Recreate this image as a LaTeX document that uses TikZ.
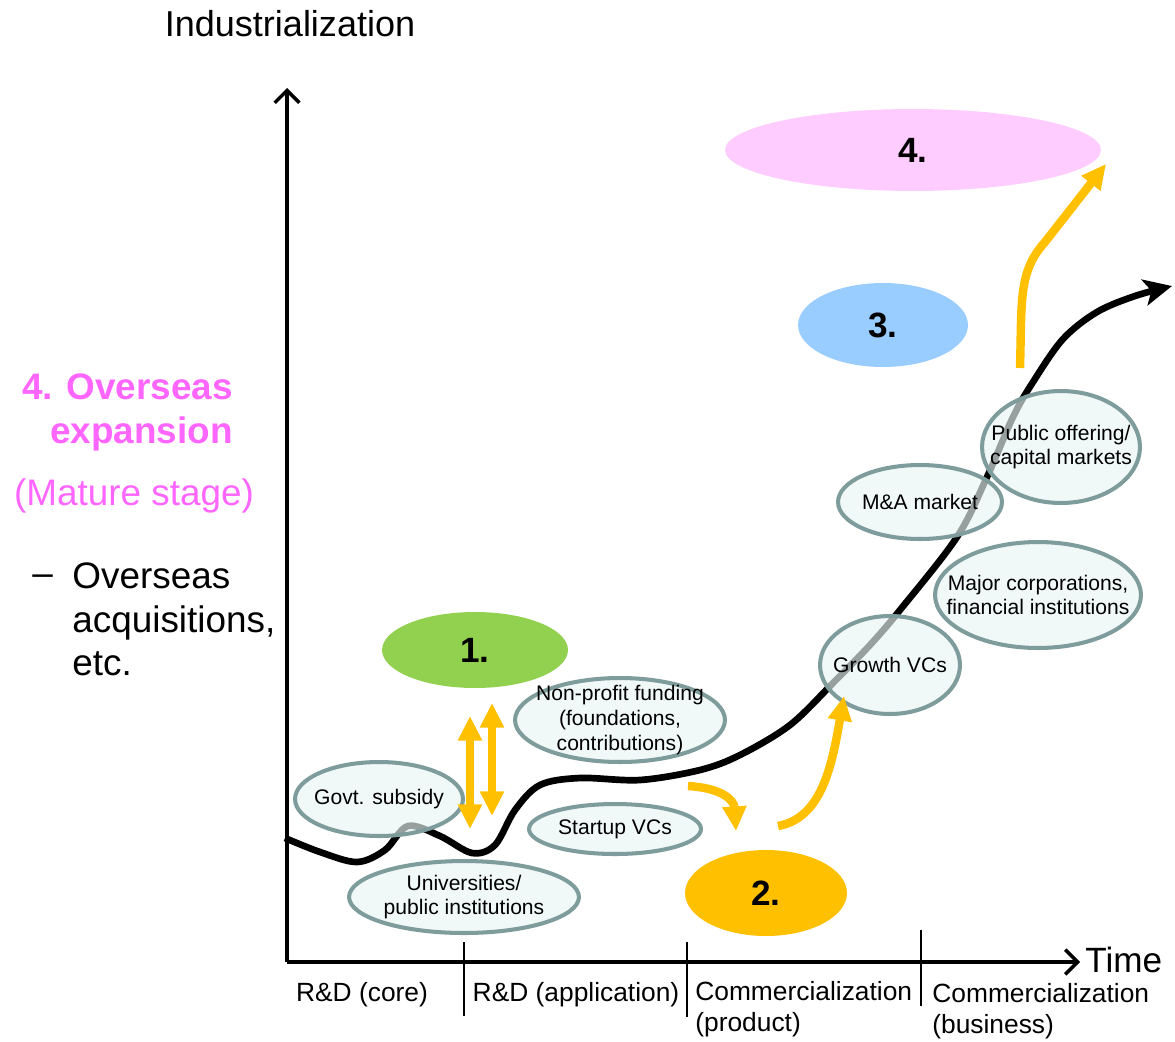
\documentclass[tikz,border=0pt]{standalone}
\usepackage{fontspec}
\setmainfont{Liberation Sans}
\usetikzlibrary{arrows.meta,shapes.geometric}
\definecolor{ellfill}{HTML}{E9F5F5}
\definecolor{ellline}{HTML}{7F9C9C}
\definecolor{gold}{HTML}{FFC000}
\definecolor{lgreen}{HTML}{92D050}
\definecolor{lblue}{HTML}{99CCFF}
\definecolor{lpink}{HTML}{FFCCFF}
\definecolor{pinktext}{HTML}{FF66FF}
\begin{document}
\begin{tikzpicture}[x=0.02cm,y=-0.02cm,
  ell/.style n args={2}{ellipse, inner sep=0pt, minimum width=#1*0.04cm-0.08cm, minimum height=#2*0.04cm-0.08cm},
  fund/.style={draw=ellline, line width=2.3pt, fill=ellfill, fill opacity=0.65},
  ftext/.style={align=center, font=\fontsize{12}{14}\selectfont, inner sep=0pt},
  stage/.style={draw=none, align=center, font=\fontsize{20}{24}\selectfont\bfseries},
  axis/.style={line width=2pt, -{Straight Barb[length=7pt,width=14pt,line width=2pt]}},
  tick/.style={line width=1.1pt},
  yarrow/.style={draw=gold, line width=4.8pt},
  ytip/.style={-{Triangle[length=14pt,width=13pt]}},
  curve/.style={line width=3.8pt, -{Stealth[length=16pt,width=15pt,inset=4pt]}},
  lab/.style={font=\fontsize{15}{17.6}\selectfont, inner sep=0pt}
]
\useasboundingbox (0,0) rectangle (1175,1041);

% axes
\coordinate (O) at (287,962);
\coordinate (ytop) at (287,88);
\coordinate (xend) at (1080,962);
\draw[axis] (O) -- (ytop);
\draw[axis] (O) -- (xend);
\node[anchor=west, font=\fontsize{20}{24}\selectfont, inner sep=0pt] (time) at (1085,960) {Time};
\node[font=\fontsize{20.5}{24}\selectfont, inner sep=0pt] (indus) at (290,24) {Industrialization};

% ticks
\coordinate (t1a) at (464,942); \coordinate (t1b) at (464,1016);
\coordinate (t2a) at (687,942); \coordinate (t2b) at (687,1017);
\coordinate (t3a) at (921,930); \coordinate (t3b) at (921,1006);
\draw[tick] (t1a) -- (t1b);
\draw[tick] (t2a) -- (t2b);
\draw[tick] (t3a) -- (t3b);

% axis labels
\node[lab] (p1) at (362,995) {R\&D (core)};
\node[lab] (p2) at (576,995) {R\&D (application)};
\node[lab, anchor=west, align=left] (p3) at (695,1009) {Commercialization\\(product)};
\node[lab, anchor=west, align=left] (p4) at (932,1011) {Commercialization\\(business)};

% black growth curve
\draw[curve] plot[smooth, tension=0.55] coordinates {(285,838) (320,852) (357,862) (385,850) (408,826) (440,836) (472,853) (495,845) (515,810) (540,785) (580,778) (640,780) (700,770) (740,755) (790,725) (833,683) (870,645) (900,610) (957,537) (987,477) (1013,417) (1033,382) (1063,339) (1097,312) (1135,296) (1172,286)};

% stage ellipses
\node[ell={95}{40}, fill=lgreen, stage] (s1) at (475,650) {1.};
\node[ell={190}{43}, fill=lpink, stage] (s4) at (913,150) {4.};
\node[ell={87}{44}, fill=lblue, stage] (s3) at (883,325) {3.};
\node[ell={83}{45}, fill=gold, draw=ellline, line width=2.3pt, stage] (s2) at (766,893) {2.};

% funding ellipses (text as centred labels so the shapes keep their size)
\node[ell={86}{39}, fund, label={[ftext]center:Govt. subsidy}] (govt) at (379,799) {};
\node[ell={117}{38}, fund, label={[ftext]center:{Universities/\\public institutions}}] (univ) at (464,897) {};
\node[ell={88}{27}, fund, label={[ftext]center:Startup VCs}] (svc) at (615,829) {};
\node[ell={107}{44}, fund, label={[ftext]center:{Non-profit funding\\(foundations,\\contributions)}}] (npf) at (620,720) {};
\node[ell={72}{51}, fund, label={[ftext]center:Growth VCs}] (gvc) at (890,665) {};
\node[ell={105}{55}, fund, label={[ftext]center:{Major corporations,\\financial institutions}}] (major) at (1038,595) {};
\node[ell={84}{39}, fund, label={[ftext]center:M\&A market}] (mna) at (920,502) {};
\node[ell={81}{58}, fund, label={[ftext]center:{Public offering/\\capital markets}}] (pub) at (1061,447) {};

% yellow arrows
\coordinate (d1a) at (470,716); \coordinate (d1b) at (470,829);
\coordinate (d2a) at (492,703); \coordinate (d2b) at (492,816);
\draw[yarrow, {Triangle[length=14pt,width=13pt]}-{Triangle[length=14pt,width=13pt]}] (d1a) -- (d1b);
\draw[yarrow, {Triangle[length=14pt,width=13pt]}-{Triangle[length=14pt,width=13pt]}] (d2a) -- (d2b);
\coordinate (c1a) at (688,786); \coordinate (c1b) at (736,831);
\draw[yarrow, ytip] (c1a) .. controls (722,788) and (734,800) .. (c1b);
\coordinate (c2a) at (778,826); \coordinate (c2b) at (844,696);
\draw[yarrow, ytip] (c2a) .. controls (822,818) and (832,765) .. (c2b);
\coordinate (c3a) at (1020,368); \coordinate (c3m) at (1045,242); \coordinate (c3b) at (1106,164);
\draw[yarrow, ytip] (c3a) .. controls (1022,300) and (1018,272) .. (c3m) -- (c3b);

% left text
\node[anchor=east, align=right, text=pinktext, font=\fontsize{21}{25}\selectfont\bfseries, inner sep=0pt] (t4) at (233,412) {4. Overseas\\expansion};
\node[text=pinktext, font=\fontsize{21}{25}\selectfont, inner sep=0pt] (mat) at (134,496) {(Mature stage)};
\node[anchor=west, font=\fontsize{21}{25}\selectfont, inner sep=0pt] (dash) at (32,580) {--};
\node[anchor=north west, align=left, font=\fontsize{21}{25}\selectfont, inner sep=0pt] (ovs) at (72,562) {Overseas\\acquisitions,\\etc.};
\end{tikzpicture}
\end{document}
